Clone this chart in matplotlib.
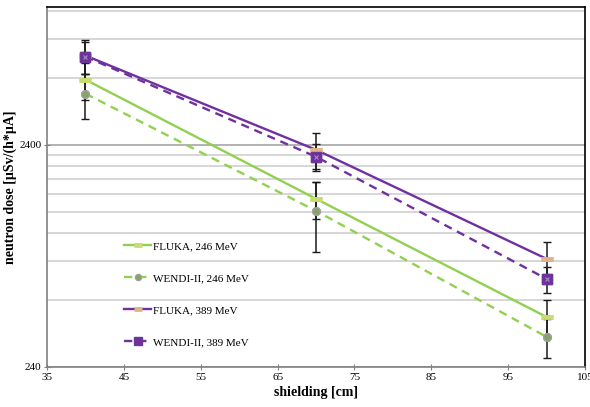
import numpy as np
import matplotlib
matplotlib.use('Agg')
from matplotlib import pyplot as plt
from matplotlib import ticker

plt.rcParams['font.family'] = ['Liberation Serif', 'DejaVu Serif']

# shielding thickness (cm)
shielding = [40, 70, 100]

# neutron dose values, uSv/(h*uA)
fluka_246 = [4710, 1371, 403]
wendi_246 = [4075, 1210, 328]
fluka_389 = [6045, 2278, 736]
wendi_389 = [5980, 2120, 598]

# error bar half-widths
fluka_246_err = [900, 255, 75]
wendi_246_err = [930, 420, 65]
fluka_389_err = [1050, 420, 139]
wendi_389_err = [1000, 300, 80]

labels = ['FLUKA, 246 MeV', 'WENDI-II, 246 MeV', 'FLUKA, 389 MeV', 'WENDI-II, 389 MeV']

green = '#92d050'
purple = '#7030a0'

fig = plt.figure(figsize=(5.9, 4.07), dpi=100)
ax = fig.add_axes([47 / 590, 40 / 407, 538 / 590, 360 / 407])

ax.set_yscale('log')
ax.set_xlim(35, 105)
ax.set_ylim(240, 10000)

# gridlines like Excel: major at 2400, minor at multiples of 240 / 2400
ax.yaxis.set_major_locator(ticker.FixedLocator([240, 2400]))
ax.yaxis.set_minor_locator(ticker.FixedLocator([240 * k for k in range(2, 10)] + [2400 * k for k in range(2, 5)]))
ax.yaxis.set_major_formatter(ticker.FixedFormatter(['240', '2400']))
ax.yaxis.set_minor_formatter(ticker.NullFormatter())
ax.xaxis.set_major_locator(ticker.FixedLocator(np.arange(35, 106, 10)))
ax.grid(True, which='major', axis='y', color='#a6a6a6', lw=1.2, zorder=0)
ax.grid(True, which='minor', axis='y', color='#cfcfcf', lw=1.2, zorder=0)
ax.set_axisbelow(True)

ax.tick_params(axis='both', which='major', labelsize=8, length=4, width=0.8, color='#808080', direction='inout', pad=2)
ax.tick_params(axis='y', which='minor', length=0)
for side in ['left', 'bottom']:
    ax.spines[side].set_color('#808080')
    ax.spines[side].set_linewidth(1.2)
for side in ['top', 'right']:
    ax.spines[side].set_color('black')
    ax.spines[side].set_linewidth(1.2)

# lines with markers (for legend)
h1, = ax.plot(shielding, fluka_246, color=green, lw=1.7, marker='_', ms=8, mew=3.5, mec='#c9dc6e', zorder=2, label=labels[0])
h2, = ax.plot(shielding, wendi_246, color=green, lw=1.7, ls=(0, (3.5, 2.5)), marker='o', ms=5.5, mfc='#83a563', mec='#a0a0a0', mew=1, zorder=2, label=labels[1])
h3, = ax.plot(shielding, fluka_389, color=purple, lw=1.7, marker='_', ms=8, mew=3.5, mec='#e0b48a', zorder=2, label=labels[2])
h4, = ax.plot(shielding, wendi_389, color=purple, lw=1.7, ls=(0, (3.5, 2.5)), marker='s', ms=6.5, mfc=purple, mec='#6a3a96', zorder=2, label=labels[3])

# error bars
for vals, err in [(fluka_246, fluka_246_err), (wendi_246, wendi_246_err),
                  (fluka_389, fluka_389_err), (wendi_389, wendi_389_err)]:
    ax.errorbar(shielding, vals, yerr=err, fmt='none', ecolor='#1a1a1a', elinewidth=1.1, capsize=3, capthick=1, zorder=3)

# markers on top of the error bars
ax.plot(shielding, fluka_246, ls='none', marker='_', ms=8, mew=3.5, mec='#c9dc6e', zorder=4)
ax.plot(shielding, wendi_246, ls='none', marker='o', ms=5.5, mfc='#83a563', mec='#a0a0a0', mew=1, zorder=4)
ax.plot(shielding, fluka_389, ls='none', marker='_', ms=8, mew=3.5, mec='#e0b48a', zorder=4)
ax.plot(shielding, wendi_389, ls='none', marker='s', ms=6.5, mfc=purple, mec='#6a3a96', zorder=4)
ax.plot(shielding, wendi_389, ls='none', marker='x', ms=3, mec='#a58cc4', mew=0.8, zorder=5)

ax.set_xlabel('shielding [cm]', fontsize=10, fontweight='bold', labelpad=3)
ax.set_ylabel('neutron dose [\u00b5Sv/(h*\u00b5A]', fontsize=10, fontweight='bold', labelpad=2)

ax.legend(handles=[h1, h2, h3, h4], loc='upper left', bbox_to_anchor=(120 / 590, 1 - 237 / 407),
          bbox_transform=fig.transFigure, frameon=False, fontsize=8, handlelength=2.4,
          handletextpad=0.2, labelspacing=2.0, borderaxespad=0, markerscale=0.8)

fig.savefig('out.png', dpi=100)
